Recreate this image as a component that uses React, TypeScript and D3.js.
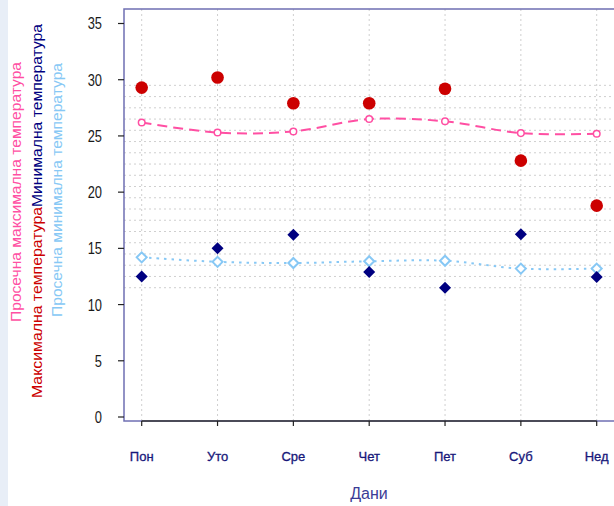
import React from "react";
import * as d3 from "d3";

// days of the week
const days = ["Пон", "Уто", "Сре", "Чет", "Пет", "Суб", "Нед"];

const maxTemp = [29.3, 30.2, 27.9, 27.9, 29.2, 22.8, 18.8];
const avgMaxTemp = [26.2, 25.3, 25.4, 26.5, 26.3, 25.25, 25.2];
const minTemp = [12.5, 15.0, 16.2, 12.9, 11.5, 16.25, 12.45];
const avgMinTemp = [14.2, 13.8, 13.7, 13.85, 13.9, 13.2, 13.2];

const yTicks = [0, 5, 10, 15, 20, 25, 30, 35];
// the dotted horizontal grid only covers the middle band
const gridValues = d3.range(11.5, 30, 1);

const legendAvgMax = "Просечна максимална температура";
const legendMax = "Максимална температура";
const legendMin = "Минимална температура";
const legendAvgMin = "Просечна минимална температура";
const xTitle = "Дани";

const width = 614;
const height = 506;
const plot = { left: 124, top: 9, right: 616, bottom: 421 };

const App = () => {
  const x = d3.scalePoint<string>().domain(days).range([141.7, 596.7]);
  const y = d3.scaleLinear().domain([0, 35]).range([417, 23.5]);

  const avgMaxLine = d3
    .line<number>()
    .x((d, i) => x(days[i])!)
    .y((d) => y(d))
    .curve(d3.curveCatmullRom);

  const avgMinLine = d3
    .line<number>()
    .x((d, i) => x(days[i])!)
    .y((d) => y(d))
    .curve(d3.curveCatmullRom);

  const diamond = (s: number) => `M0,${-s}L${s},0L0,${s}L${-s},0Z`;

  return (
    <svg
      width={width}
      height={height}
      style={{ position: "absolute", left: 0, top: 0, background: "#fff" }}
      fontFamily="'Liberation Sans', Arial, sans-serif"
    >
      <rect x={0} y={0} width={8} height={height} fill="#e8eef7" />

      {/* grid */}
      <g stroke="#cfcfcf" strokeWidth={1} strokeDasharray="2,3">
        {gridValues.map((v) => (
          <line key={v} x1={plot.left} x2={plot.right} y1={y(v)} y2={y(v)} />
        ))}
        {days.map((d) => (
          <line key={d} x1={x(d)} x2={x(d)} y1={plot.top} y2={plot.bottom} />
        ))}
      </g>

      {/* frame */}
      <rect
        x={plot.left}
        y={plot.top}
        width={plot.right - plot.left}
        height={plot.bottom - plot.top}
        fill="none"
        stroke="#6f6fb3"
        strokeWidth={1.5}
      />

      {/* y axis */}
      <g>
        {yTicks.map((t) => (
          <g key={t}>
            <line x1={118} x2={plot.left} y1={y(t)} y2={y(t)} stroke="#222" strokeWidth={1.2} />
            <text
              transform={`translate(102,${y(t)}) scale(0.78,1)`}
              textAnchor="end"
              dy="0.36em"
              fontSize={16.5}
              fill="#1a1a1a"
            >
              {t}
            </text>
          </g>
        ))}
      </g>

      {/* x axis */}
      <line
        x1={x(days[0])}
        x2={x(days[days.length - 1])}
        y1={plot.bottom}
        y2={plot.bottom}
        stroke="#333"
        strokeWidth={1.5}
      />
      {days.map((d) => (
        <g key={d}>
          <line x1={x(d)} x2={x(d)} y1={plot.bottom} y2={plot.bottom + 5} stroke="#222" strokeWidth={1.2} />
          <text
            x={x(d)}
            y={461}
            textAnchor="middle"
            fontSize={13}
            fill="#17177a"
            stroke="#17177a"
            strokeWidth={0.3}
          >
            {d}
          </text>
        </g>
      ))}
      <text x={369} y={499} textAnchor="middle" fontSize={16} fill="#3c3c96">
        {xTitle}
      </text>

      {/* average max */}
      <path
        d={avgMaxLine(avgMaxTemp)!}
        fill="none"
        stroke="#ff4fa3"
        strokeWidth={2}
        strokeDasharray="10,6"
      />
      {avgMaxTemp.map((v, i) => (
        <circle
          key={i}
          cx={x(days[i])}
          cy={y(v)}
          r={3.3}
          fill="#fff"
          stroke="#ff4fa3"
          strokeWidth={1.5}
        />
      ))}

      {/* average min */}
      <path
        d={avgMinLine(avgMinTemp)!}
        fill="none"
        stroke="#87c8f5"
        strokeWidth={2}
        strokeDasharray="2.5,5"
      />
      {avgMinTemp.map((v, i) => (
        <path
          key={i}
          transform={`translate(${x(days[i])},${y(v)})`}
          d={diamond(5)}
          fill="#fff"
          stroke="#87c8f5"
          strokeWidth={2}
        />
      ))}

      {/* max */}
      {maxTemp.map((v, i) => (
        <circle key={i} cx={x(days[i])} cy={y(v)} r={6.3} fill="#cc0000" />
      ))}

      {/* min */}
      {minTemp.map((v, i) => (
        <path
          key={i}
          transform={`translate(${x(days[i])},${y(v)})`}
          d={diamond(6)}
          fill="#000080"
        />
      ))}

      {/* legend, rotated */}
      <g fontSize={14.5}>
        <text
          transform="translate(21,322) rotate(-90)"
          fill="#ff4fa3"
          textLength={260}
          lengthAdjust="spacingAndGlyphs"
        >
          {legendAvgMax}
        </text>
        <text
          transform="translate(42,398) rotate(-90)"
          fill="#cc0000"
          textLength={191}
          lengthAdjust="spacingAndGlyphs"
        >
          {legendMax}
        </text>
        <text
          transform="translate(42,207) rotate(-90)"
          fill="#000080"
          textLength={183}
          lengthAdjust="spacingAndGlyphs"
        >
          {legendMin}
        </text>
        <text
          transform="translate(62,317) rotate(-90)"
          fill="#87c8f5"
          textLength={254}
          lengthAdjust="spacingAndGlyphs"
        >
          {legendAvgMin}
        </text>
      </g>
    </svg>
  );
};

export default App;
